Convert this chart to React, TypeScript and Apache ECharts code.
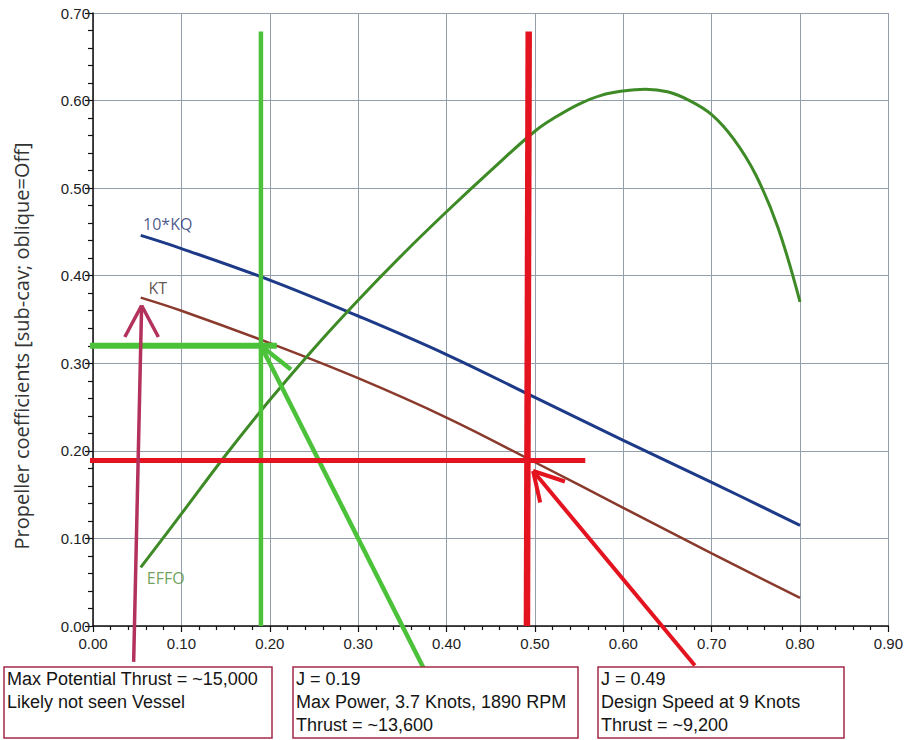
import React, { useEffect, useRef } from "react";
import * as echarts from "echarts";

// ---- data ----
const J = [0.054, 0.1, 0.2, 0.3, 0.4, 0.5, 0.6, 0.7, 0.8];
const KQ10 = [0.446, 0.431, 0.395, 0.354, 0.31, 0.261, 0.212, 0.164, 0.115];
const KT = [0.375, 0.36, 0.323, 0.283, 0.238, 0.187, 0.135, 0.083, 0.032];
const EFFO_J = [0.054, 0.1, 0.15, 0.2, 0.25, 0.3, 0.35, 0.4, 0.45, 0.5, 0.525, 0.55, 0.575, 0.6, 0.625, 0.65, 0.675, 0.7, 0.725, 0.75, 0.775, 0.8];
const EFFO = [0.067, 0.128, 0.195, 0.258, 0.317, 0.372, 0.424, 0.473, 0.52, 0.565, 0.582, 0.596, 0.606, 0.611, 0.613, 0.61, 0.6, 0.584, 0.556, 0.515, 0.455, 0.37];

const X_MIN = 0, X_MAX = 0.9, X_STEP = 0.1;
const Y_MIN = 0, Y_MAX = 0.7, Y_STEP = 0.1;

const Y_NAME = "Propeller coefficients [sub-cav; oblique=Off]";

// hand-drawn annotation segments (data coordinates, may extend past axes)
const GREEN_SEGS = [
  [[0.19, 0], [0.19, 0.679]],
  [[-0.042, 0.32], [0.208, 0.32]],
  [[0.19, 0.32], [0.374, -0.048]],
  [[0.19, 0.32], [0.224, 0.293]],
];
const RED_SEGS = [
  [[0.491, 0], [0.493, 0.679]],
  [[-0.03, 0.189], [0.557, 0.189]],
  [[0.498, 0.177], [0.681, -0.045]],
  [[0.498, 0.177], [0.534, 0.165]],
  [[0.498, 0.177], [0.506, 0.141]],
];
const MAROON_SEGS = [
  [[0.046, -0.041], [0.055, 0.366]],
  [[0.055, 0.366], [0.036, 0.33]],
  [[0.055, 0.366], [0.074, 0.33]],
];

const BOX1 = ["Max Potential Thrust = ~15,000", "Likely not seen Vessel"];
const BOX2 = ["J = 0.19", "Max Power, 3.7 Knots, 1890 RPM", "Thrust = ~13,600"];
const BOX3 = ["J = 0.49", "Design Speed at 9 Knots", "Thrust = ~9,200"];

export default function App() {
  const ref = useRef<HTMLDivElement>(null);
  useEffect(() => {
    if (!ref.current) return;
    const chart = echarts.init(ref.current, null, { renderer: "svg" });

    const segSeries = (segs: number[][][], color: string, width: number, widths?: number[]) =>
      segs.map((s, i) => ({
        type: "line",
        data: s,
        clip: false,
        symbol: "none",
        silent: true,
        z: 6,
        lineStyle: { color, width: widths ? widths[i] : width, cap: "butt" },
      }));

    const boxes = [
      { x: 4, w: 268, lines: BOX1 },
      { x: 293, w: 285, lines: BOX2 },
      { x: 598, w: 246, lines: BOX3 },
    ];
    const graphics: any[] = [];
    boxes.forEach((b) => {
      graphics.push({
        type: "rect",
        shape: { x: b.x, y: 667, width: b.w, height: 71 },
        style: { fill: "#fff", stroke: "#a32a48", lineWidth: 1.5 },
        z: 10,
      });
      b.lines.forEach((t, i) => {
        graphics.push({
          type: "text",
          x: b.x + 3,
          y: 679 + i * 23,
          style: {
            text: t,
            fill: "#151515",
            font: '18px "Liberation Sans", Arial, sans-serif',
            textVerticalAlign: "middle",
            textAlign: "left",
          },
          z: 11,
        });
      });
    });
    graphics.push({
      type: "text",
      x: 21,
      y: 346,
      rotation: Math.PI / 2,
      style: {
        text: Y_NAME,
        fill: "#333",
        font: '20px "Open Sans", sans-serif',
        textAlign: "center",
        textVerticalAlign: "middle",
      },
    });

    const labelFont = { fontFamily: "Open Sans", fontSize: 16 };

    chart.setOption({
      animation: false,
      backgroundColor: "#fff",
      grid: { left: 93, width: 798, top: 13, height: 613 },
      xAxis: {
        type: "value",
        min: X_MIN,
        max: X_MAX,
        interval: X_STEP,
        axisLine: { lineStyle: { color: "#111", width: 1.5 } },
        axisTick: { length: 6, lineStyle: { color: "#111", width: 1.2 } },
        minorTick: { show: true, splitNumber: 5, length: 4, lineStyle: { color: "#111", width: 1.2 } },
        axisLabel: {
          formatter: (v: number) => v.toFixed(2),
          color: "#222",
          fontFamily: "Liberation Sans",
          fontSize: 15,
          margin: 10,
        },
        splitLine: { show: true, lineStyle: { color: "#949daa", width: 1 } },
      },
      yAxis: {
        type: "value",
        min: Y_MIN,
        max: Y_MAX,
        interval: Y_STEP,
        axisLine: { show: true, lineStyle: { color: "#111", width: 1.5 } },
        axisTick: { show: true, length: 8, lineStyle: { color: "#111", width: 1.2 } },
        minorTick: { show: true, splitNumber: 5, length: 5, lineStyle: { color: "#111", width: 1.2 } },
        axisLabel: {
          formatter: (v: number) => v.toFixed(2),
          color: "#222",
          fontFamily: "Liberation Sans",
          fontSize: 15,
          margin: 3,
        },
        splitLine: { show: true, lineStyle: { color: "#949daa", width: 1 } },
      },
      series: [
        {
          type: "line",
          name: "10*KQ",
          data: J.map((x, i) => [x, KQ10[i]]),
          smooth: 0.4,
          showSymbol: false,
          lineStyle: { color: "#1d3a88", width: 3 },
          z: 3,
        },
        {
          type: "line",
          name: "KT",
          data: J.map((x, i) => [x, KT[i]]),
          smooth: 0.4,
          showSymbol: false,
          lineStyle: { color: "#8a3a2c", width: 2.5 },
          z: 3,
        },
        {
          type: "line",
          name: "EFFO",
          data: EFFO_J.map((x, i) => [x, EFFO[i]]),
          smooth: 0.4,
          showSymbol: false,
          lineStyle: { color: "#3d8a26", width: 3 },
          z: 4,
        },
        {
          type: "scatter",
          symbolSize: 1,
          silent: true,
          itemStyle: { color: "rgba(0,0,0,0)" },
          z: 7,
          data: [
            { value: [J[0], KQ10[0]], label: { show: true, position: "inside", offset: [27, -11], formatter: "10*KQ", color: "#1c2f70", ...labelFont } },
            { value: [J[0], KT[0]], label: { show: true, position: "inside", offset: [17, -10], formatter: "KT", color: "#3a2a25", ...labelFont } },
            { value: [EFFO_J[0], EFFO[0]], label: { show: true, position: "inside", offset: [25, 11], formatter: "EFFO", color: "#4a8a30", ...labelFont } },
          ],
        },
        ...segSeries(GREEN_SEGS, "#4cc23a", 5, [4.5, 6, 4.5, 4.5]),
        ...segSeries(RED_SEGS, "#e3141f", 5, [6.5, 5, 4, 4, 4]),
        ...segSeries(MAROON_SEGS, "#b3325c", 3.5),
      ],
      graphic: graphics,
    });
    return () => chart.dispose();
  }, []);
  return (
    <div
      ref={ref}
      style={{ position: "fixed", left: 0, top: 0, width: 906, height: 740, background: "#fff" }}
    />
  );
}
